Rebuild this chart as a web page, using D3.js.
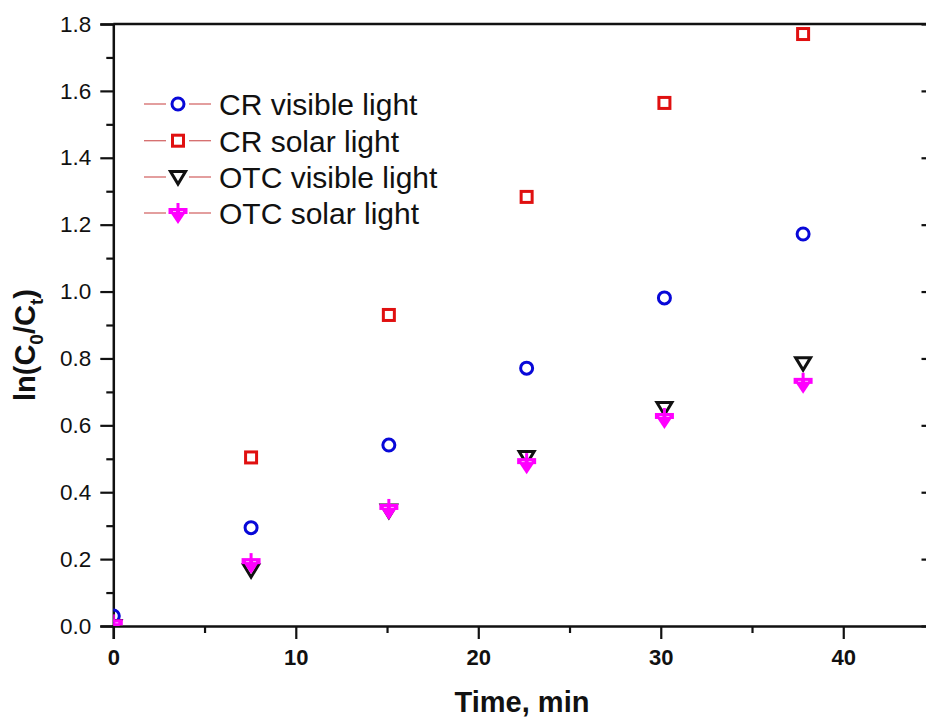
<!DOCTYPE html>
<html><head><meta charset="utf-8">
<script src="https://cdn.jsdelivr.net/npm/d3@7"></script>
<style>body{margin:0;background:#fff}svg{display:block}text{font-family:"Liberation Sans",Arial,sans-serif}</style>
</head><body>
<svg id="c" width="926" height="720"></svg>
<script>
const times = [0, 7.55, 15.1, 22.65, 30.2, 37.8];
const crVisible = [0.03, 0.294, 0.541, 0.771, 0.981, 1.172];
const crSolar = [0.0, 0.504, 0.93, 1.283, 1.564, 1.770];
const otcVisible = [0.0, 0.167, 0.345, 0.505, 0.652, 0.786];
const otcSolar = [0.005, 0.188, 0.35, 0.487, 0.622, 0.727];
const seriesNames = ["CR visible light", "CR solar light", "OTC visible light", "OTC solar light"];
const xTicks = [0, 10, 20, 30, 40];
const yTicks = [0.0, 0.2, 0.4, 0.6, 0.8, 1.0, 1.2, 1.4, 1.6, 1.8];

const svg = d3.select("#c");
const L = 113.3, R = 934.5, T = 24, B = 626;
const x = d3.scaleLinear().domain([0, 45]).range([L, R]);
const y = d3.scaleLinear().domain([0, 1.8]).range([B, T]);

// axes
const gx = svg.append("g").attr("transform", `translate(0,${B})`)
  .call(d3.axisBottom(x).tickValues(xTicks).tickSize(13).tickPadding(10).tickFormat(d3.format("d")));
const gxm = svg.append("g").attr("transform", `translate(0,${B})`)
  .call(d3.axisBottom(x).tickValues([5,15,25,35,45]).tickSize(7).tickFormat(""));
const gy = svg.append("g").attr("transform", `translate(${L},0)`)
  .call(d3.axisLeft(y).tickValues(yTicks).tickSize(13).tickPadding(9).tickFormat(d3.format(".1f")));
const gym = svg.append("g").attr("transform", `translate(${L},0)`)
  .call(d3.axisLeft(y).tickValues(d3.range(0.1, 1.8, 0.2)).tickSize(7).tickFormat(""));
const gr = svg.append("g").attr("transform", `translate(${R},0)`)
  .call(d3.axisLeft(y).tickValues(yTicks).tickSize(13).tickFormat(""));
const grm = svg.append("g").attr("transform", `translate(${R},0)`)
  .call(d3.axisLeft(y).tickValues(d3.range(0.1, 1.8, 0.2)).tickSize(7).tickFormat(""));
grm.selectAll("line").attr("stroke", "#ccc");
svg.append("line").attr("x1", L).attr("x2", R).attr("y1", T).attr("y2", T).attr("stroke", "#111").attr("stroke-width", 2.5);
gr.select(".domain").remove(); grm.select(".domain").remove(); gym.select(".domain").remove(); gxm.select(".domain").remove();
[gx, gy].forEach(g => g.select(".domain").attr("stroke", "#111").attr("stroke-width", 2.5));
[gx, gxm, gy, gym, gr].forEach(g => g.selectAll("line").attr("stroke", "#111").attr("stroke-width", 2.2));
gx.selectAll("text").attr("font-size", 22).attr("font-weight", "bold").attr("fill", "#111");
gy.selectAll("text").attr("font-size", 22.5).attr("fill", "#111");

// titles
svg.append("text").attr("x", 522).attr("y", 712).attr("text-anchor", "middle")
  .attr("font-size", 29).attr("font-weight", "bold").attr("fill", "#111").text("Time, min");
const yl = svg.append("text").attr("transform", `translate(35,${y(0.84)}) rotate(-90)`).attr("text-anchor", "middle")
  .attr("font-size", 29).attr("font-weight", "bold").attr("fill", "#111");
yl.append("tspan").text("ln(C");
yl.append("tspan").attr("font-size", 19).attr("dy", 8).text("0");
yl.append("tspan").attr("dy", -8).text("/C");
yl.append("tspan").attr("font-size", 19).attr("dy", 8).text("t");
yl.append("tspan").attr("dy", -8).text(")");

// markers
function drawMarker(g, type) {
  if (type === 0) {
    g.append("circle").attr("r", 6).attr("fill", "none").attr("stroke", "#0808d8").attr("stroke-width", 3);
  } else if (type === 1) {
    g.append("rect").attr("x", -5.5).attr("y", -5.5).attr("width", 11).attr("height", 11)
      .attr("fill", "none").attr("stroke", "#e01010").attr("stroke-width", 3);
  } else if (type === 2) {
    g.append("path").attr("d", "M-7.5,-5.5 L7.5,-5.5 L0,7 Z").attr("fill", "none")
      .attr("stroke", "#111").attr("stroke-width", 3).attr("stroke-linejoin", "miter");
  } else {
    g.append("path").attr("d", "M-8,-1 L8,-1 L0,11 Z").attr("fill", "#ff00ff");
    g.append("rect").attr("x", -9.5).attr("y", -5).attr("width", 19).attr("height", 6).attr("fill", "#ff00ff");
    g.append("rect").attr("x", -1.5).attr("y", -10).attr("width", 3).attr("height", 8).attr("fill", "#ff00ff");
    g.append("line").attr("x1", -5).attr("x2", -2).attr("y1", -1.5).attr("y2", -1.5).attr("stroke", "#ffb0ff").attr("stroke-width", 1);
    g.append("line").attr("x1", 2).attr("x2", 5).attr("y1", -1.5).attr("y2", -1.5).attr("stroke", "#ffb0ff").attr("stroke-width", 1);
  }
}

const allSeries = [crVisible, crSolar, otcVisible, otcSolar];
svg.append("clipPath").attr("id", "pc").append("rect").attr("x", L).attr("y", T).attr("width", R - L).attr("height", B - T);
const plot = svg.append("g").attr("clip-path", "url(#pc)");
allSeries.forEach((vals, si) => {
  vals.forEach((v, i) => {
    const g = plot.append("g").attr("transform", `translate(${x(times[i])},${y(v)})`);
    drawMarker(g, si);
  });
});

// legend
const legY = [104, 140.7, 177, 213];
seriesNames.forEach((name, i) => {
  const cy = legY[i];
  svg.append("line").attr("x1", 144).attr("x2", 166).attr("y1", cy).attr("y2", cy).attr("stroke", "#d46a6a").attr("stroke-width", 1.3);
  svg.append("line").attr("x1", 189).attr("x2", 211).attr("y1", cy).attr("y2", cy).attr("stroke", "#d46a6a").attr("stroke-width", 1.3);
  drawMarker(svg.append("g").attr("transform", `translate(178,${cy})`), i);
  svg.append("text").attr("x", 219).attr("y", cy + 11).attr("font-size", 30).attr("fill", "#111").text(name);
});
</script>
</body></html>
